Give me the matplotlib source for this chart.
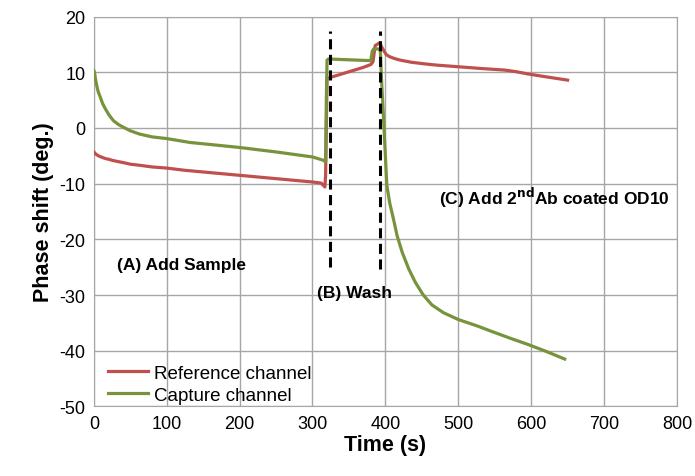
"""Phase shift of reference and capture channels over the assay steps."""

import matplotlib
matplotlib.use("Agg")
import matplotlib.pyplot as plt

plt.rcParams["font.family"] = ["Liberation Sans", "DejaVu Sans"]
plt.rcParams["axes.unicode_minus"] = False

# reference channel (red)
ref_t = [0, 2, 5, 8, 12, 16, 20, 25, 32, 40, 50, 63, 80, 100, 125, 150, 175,
         200, 250, 300, 312, 317, 318, 320, 322, 330, 350, 370, 380, 383,
         386, 392, 396, 401, 406, 412, 420, 436, 455, 470, 500, 530, 564,
         580, 596, 620, 650]
ref_v = [-4.3, -4.6, -4.9, -5.1, -5.3, -5.5, -5.6, -5.8, -6.0, -6.2, -6.5,
         -6.7, -7.0, -7.2, -7.6, -7.9, -8.2, -8.5, -9.1, -9.7, -9.9, -10.6,
         -8.5, 8.8, 9.0, 9.3, 10.1, 10.9, 11.4, 11.9, 14.8, 15.3, 14.3, 13.2,
         12.8, 12.5, 12.2, 11.8, 11.5, 11.3, 11.0, 10.7, 10.4, 10.1, 9.7,
         9.2, 8.6]

# capture channel (green)
cap_t = [0, 1, 2, 4, 6, 9, 12, 16, 21, 27, 34, 41, 50, 63, 80, 100, 132,
         170, 200, 250, 300, 315, 318, 319, 320, 322, 340, 360, 380, 382,
         384, 390, 393, 395, 397.5, 400, 402, 406, 411, 416, 423, 432, 441,
         452, 464, 480, 500, 527, 545, 570, 596, 620, 646]
cap_v = [10.3, 10.0, 9.0, 7.6, 6.5, 5.5, 4.4, 3.4, 2.3, 1.3, 0.6, 0.1, -0.5,
         -1.1, -1.6, -1.9, -2.6, -3.1, -3.5, -4.3, -5.2, -5.8, -6.1, 5.0,
         12.2, 12.4, 12.3, 12.2, 12.1, 13.8, 14.2, 14.2, 14.0, 8.0, 1.7,
         -5.0, -10.3, -13.5, -16.3, -19.3, -22.3, -25.3, -27.7, -30.0, -31.8,
         -33.2, -34.4, -35.6, -36.5, -37.7, -38.9, -40.1, -41.5]

# step markers (s) and their vertical extent
step_t = [324, 393]
step_top = 17.4
step_bottom = [-24.9, -25.3]

fig = plt.figure(figsize=(6.95, 4.77), dpi=100)
ax = fig.add_axes([0.135, 0.146, 0.839, 0.817])

ax.plot(ref_t, ref_v, color="#C0504D", lw=2.3, label="Reference channel",
        zorder=3, solid_joinstyle="round")
ax.plot(cap_t, cap_v, color="#77933C", lw=2.3, label="Capture channel",
        zorder=3, solid_joinstyle="round")
for t, b in zip(step_t, step_bottom):
    ax.plot([t, t], [b, step_top], color="black", lw=2.2,
            ls=(0, (3.3, 1.8)), zorder=4)

ax.text(32, -24.6, "(A) Add Sample", fontsize=12.5, fontweight="bold", va="center")
ax.text(306, -29.5, "(B) Wash", fontsize=12.5, fontweight="bold", va="center")
ax.text(473, -12.4, "(C) Add 2$^{\\mathbf{nd}}$Ab coated OD10", fontsize=12.5,
        fontweight="bold", va="center")

ax.set_xlim(0, 800)
ax.set_ylim(-50, 20)
ax.set_xticks(range(0, 801, 100))
ax.set_yticks(range(-50, 21, 10))
ax.grid(True, color="#A6A6A6", lw=1)
ax.set_axisbelow(True)
for s in ax.spines.values():
    s.set_color("#A6A6A6")
ax.tick_params(length=0, labelsize=13, pad=6)
ax.set_xlabel("Time (s)", fontsize=15.5, fontweight="bold", labelpad=2)
ax.set_ylabel("Phase shift (deg.)", fontsize=15.5, fontweight="bold", labelpad=4)
ax.legend(loc="lower left", frameon=False, fontsize=13.5, handlelength=2.1,
          borderaxespad=0.0, labelspacing=0.25, handletextpad=0.35,
          bbox_to_anchor=(0.012, -0.012))

fig.savefig("out.png", dpi=100)
